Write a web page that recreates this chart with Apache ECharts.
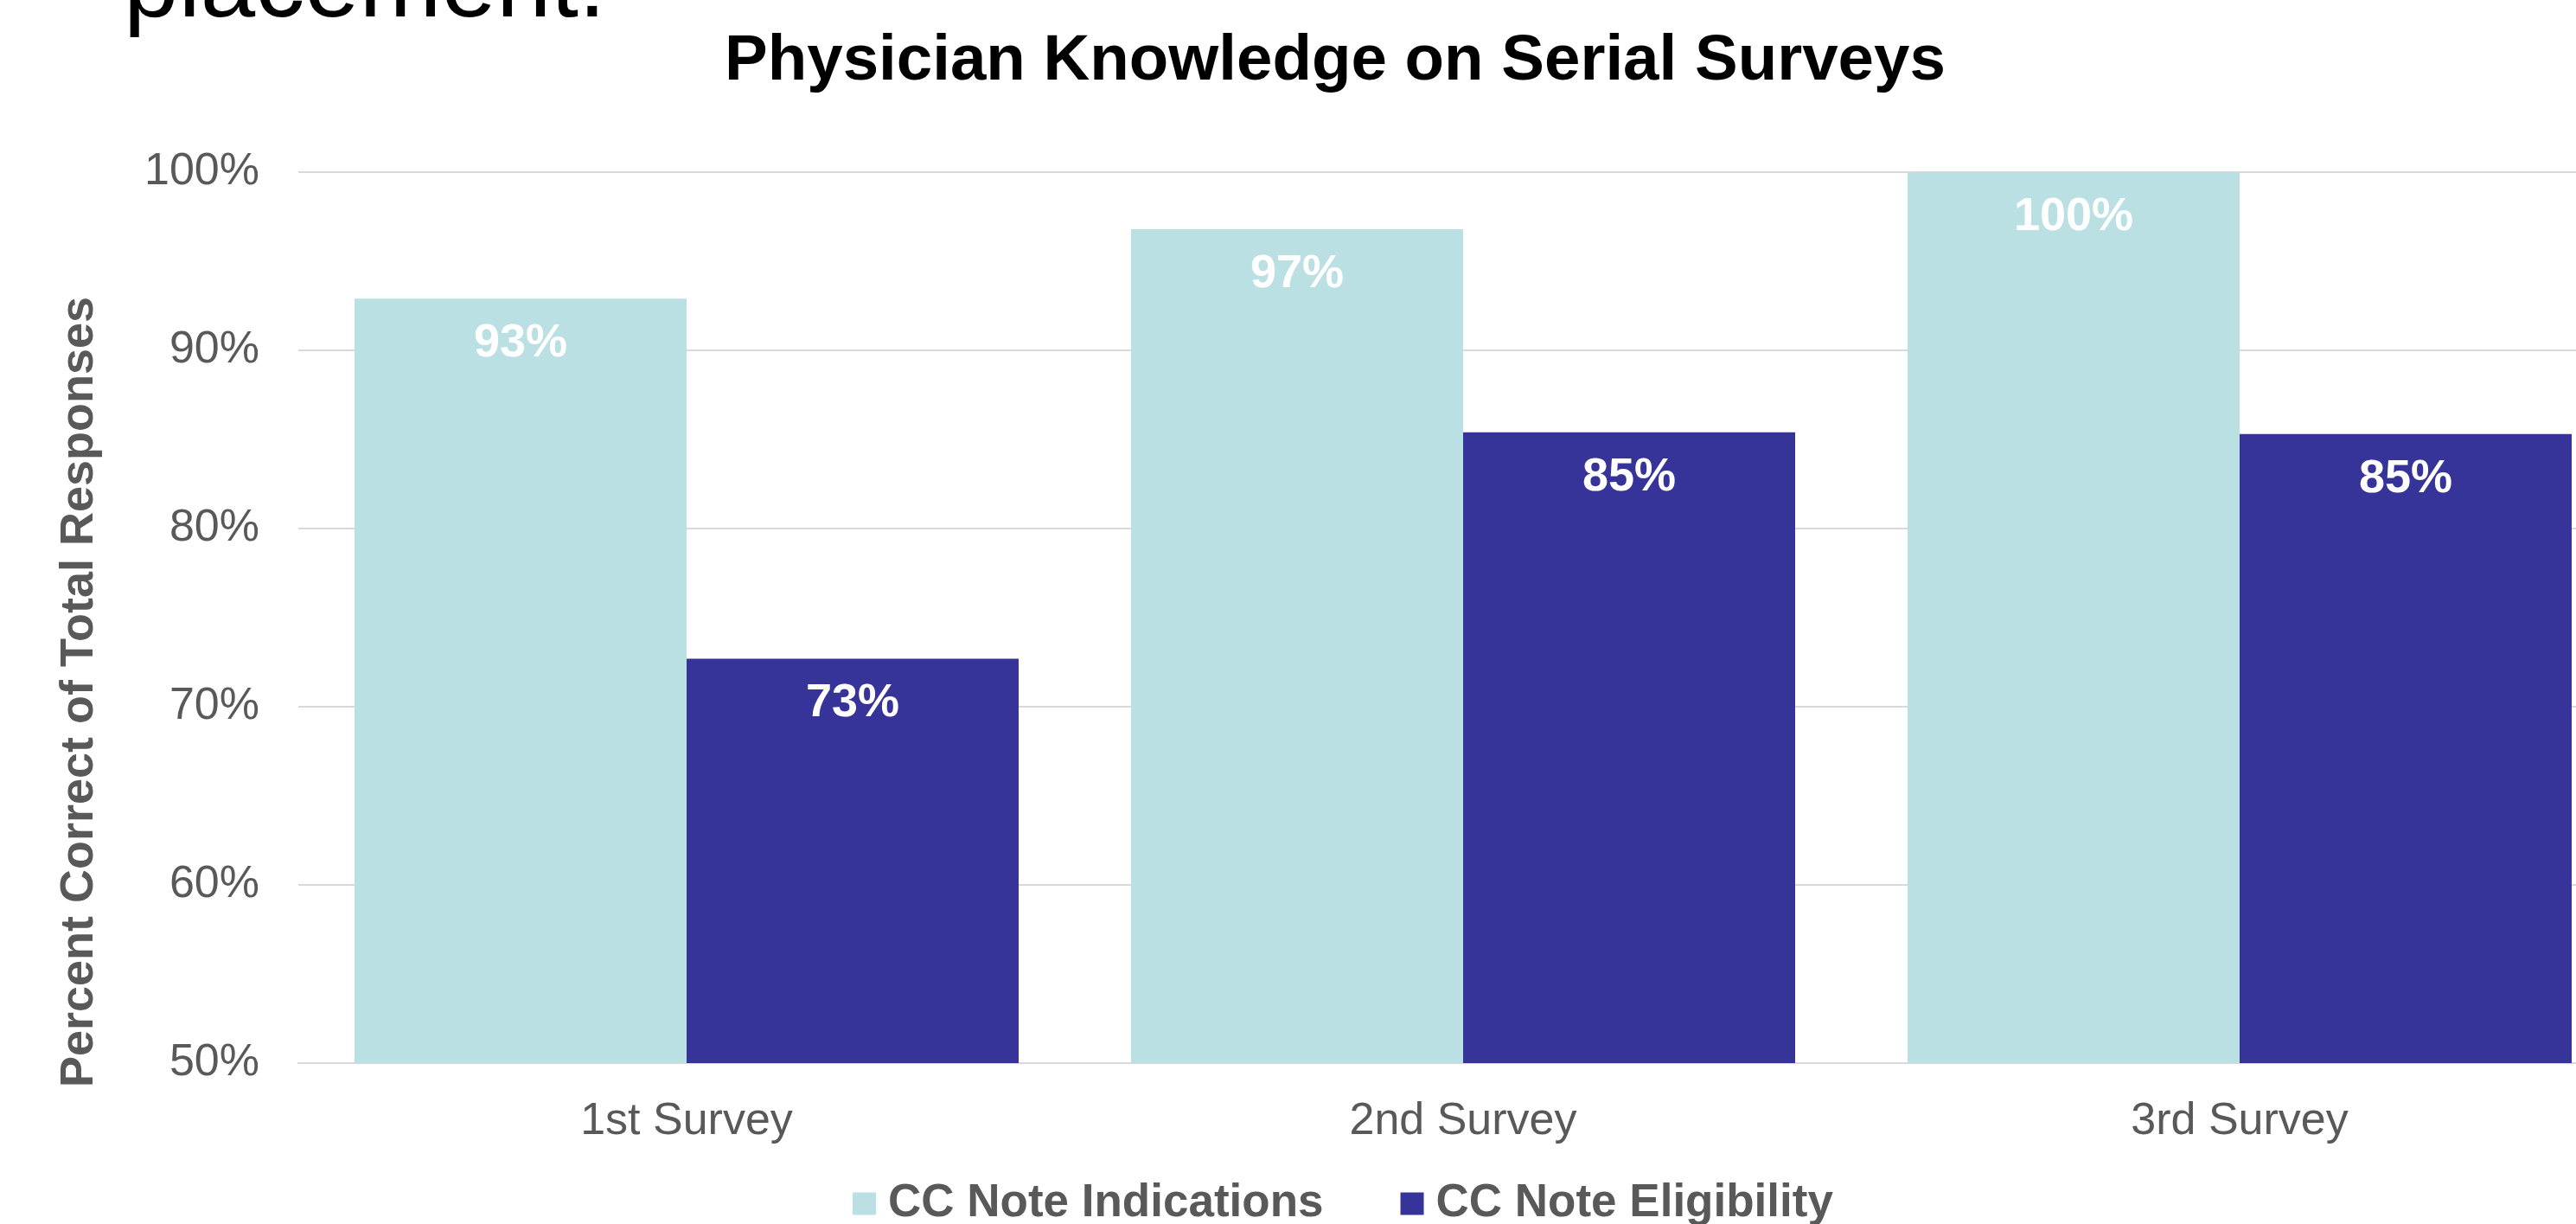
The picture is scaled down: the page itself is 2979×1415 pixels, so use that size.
<!DOCTYPE html>
<html>
<head>
<meta charset="utf-8">
<script src="https://cdn.jsdelivr.net/npm/echarts@6/dist/echarts.min.js"></script>
<style>
html,body{margin:0;padding:0;background:#fff;}
#chart{width:2979px;height:1415px;}
</style>
</head>
<body>
<div id="chart"></div>
<script>
const categories = ['1st Survey', '2nd Survey', '3rd Survey'];
const seriesNames = ['CC Note Indications', 'CC Note Eligibility'];
const indications = [92.9, 96.8, 100];
const eligibility = [72.7, 85.4, 85.3];
const yTicks = { min: 50, max: 100, interval: 10 };
const titleText = 'Physician Knowledge on Serial Surveys';
const yAxisTitle = 'Percent Correct of Total Responses';
const headingFragment = 'placement.';

const FONT = "'Liberation Sans', Arial, sans-serif";
const GRAY = '#595959';
const LIGHT = '#BBE0E3';
const DARK = '#363498';

const chart = echarts.init(document.getElementById('chart'));
const labelOpt = {
  show: true,
  position: 'insideTop',
  distance: 25,
  color: '#fff',
  fontFamily: FONT,
  fontWeight: 'bold',
  fontSize: 54,
  formatter: p => Math.round(p.value) + '%'
};
chart.setOption({
  animation: false,
  backgroundColor: '#fff',
  title: {
    text: titleText,
    left: 838,
    top: 34,
    padding: 0,
    textStyle: { fontFamily: FONT, fontWeight: 'bold', fontSize: 74.5, color: '#000' }
  },
  graphic: [
    {
      type: 'text',
      left: 143,
      top: -69,
      style: { text: headingFragment, font: "114px " + FONT, fill: '#000' }
    },
    {
      type: 'text',
      x: 92,
      y: 800,
      rotation: Math.PI / 2,
      style: {
        text: yAxisTitle,
        font: "bold 54px " + FONT,
        fill: GRAY,
        align: 'center',
        verticalAlign: 'middle'
      }
    }
  ],
  legend: {
    left: 986,
    top: 1365,
    padding: 0,
    itemWidth: 27,
    itemHeight: 26,
    itemGap: 89,
    icon: 'rect',
    textStyle: { fontFamily: FONT, fontWeight: 'bold', fontSize: 53, color: GRAY, padding: [0, 0, 0, 9] },
    data: seriesNames
  },
  grid: {
    left: 345,
    top: 199,
    width: 2694,
    height: 1030,
    containLabel: false,
    outerBoundsMode: 'none'
  },
  xAxis: {
    type: 'category',
    data: categories,
    axisLine: { show: true, lineStyle: { color: '#d9d9d9', width: 2 } },
    axisTick: { show: false },
    axisLabel: { color: GRAY, fontFamily: FONT, fontSize: 52, margin: 42 }
  },
  yAxis: {
    type: 'value',
    min: yTicks.min,
    max: yTicks.max,
    interval: yTicks.interval,
    axisLine: { show: false },
    axisTick: { show: false },
    splitLine: { lineStyle: { color: '#d9d9d9', width: 2 } },
    axisLabel: { color: GRAY, fontFamily: FONT, fontSize: 52, margin: 45, formatter: '{value}%' }
  },
  series: [
    {
      name: seriesNames[0],
      type: 'bar',
      data: indications,
      barWidth: 384,
      barGap: '0%',
      itemStyle: { color: LIGHT },
      label: labelOpt
    },
    {
      name: seriesNames[1],
      type: 'bar',
      data: eligibility,
      barWidth: 384,
      barGap: '0%',
      itemStyle: { color: DARK },
      label: labelOpt
    }
  ]
});
</script>
</body>
</html>
